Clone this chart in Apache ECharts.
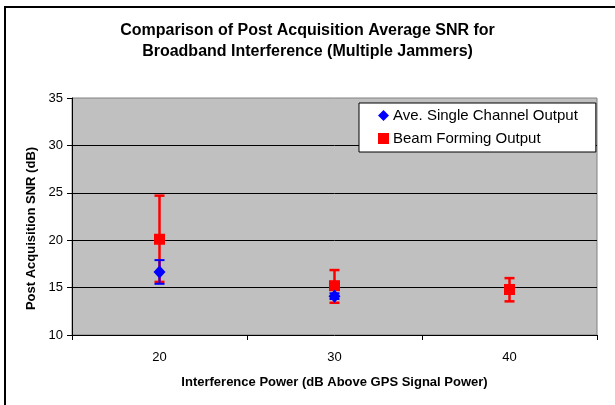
<!DOCTYPE html>
<html>
<head>
<meta charset="utf-8">
<script src="https://cdn.jsdelivr.net/npm/echarts@6/dist/echarts.min.js"></script>
<style>
  html, body { margin: 0; padding: 0; background: #fff; }
  #main { width: 615px; height: 405px; }
</style>
</head>
<body>
<div id="main"></div>
<script>
// categories: interference power (dB above GPS signal power)
var categories = ['20', '30', '40'];
var yTicks = [10, 15, 20, 25, 30, 35];

// Ave. Single Channel Output
var singleMean = [16.65, 14.1, null];
var singleLow = [15.4, 13.8, null];
var singleHigh = [17.9, 14.4, null];

// Beam Forming Output
var beamMean = [20.1, 15.2, 14.8];
var beamLow = [15.6, 13.4, 13.55];
var beamHigh = [24.7, 16.85, 16.0];

function errData(low, high) {
    var out = [];
    for (var i = 0; i < categories.length; i++) {
        if (low[i] != null) out.push([i, low[i], high[i]]);
    }
    return out;
}

function errBar(color, width, cap) {
    return function (params, api) {
        var lo = api.coord([api.value(0), api.value(1)]);
        var hi = api.coord([api.value(0), api.value(2)]);
        var x = lo[0];
        var style = { stroke: color, lineWidth: width };
        return {
            type: 'group',
            children: [
                { type: 'line', shape: { x1: x, y1: lo[1], x2: x, y2: hi[1] }, style: style },
                { type: 'line', shape: { x1: x - cap, y1: lo[1], x2: x + cap, y2: lo[1] }, style: style },
                { type: 'line', shape: { x1: x - cap, y1: hi[1], x2: x + cap, y2: hi[1] }, style: style }
            ]
        };
    };
}

var chart = echarts.init(document.getElementById('main'));
var font = 'Arial, "Liberation Sans", sans-serif';

var option = {
    animation: false,
    backgroundColor: '#fff',
    textStyle: { fontFamily: font },
    title: {
        text: 'Comparison of Post Acquisition Average SNR for\nBroadband Interference (Multiple Jammers)',
        left: 'center',
        top: 15,
        textStyle: { fontSize: 16, fontWeight: 'bold', color: '#000', lineHeight: 21, fontFamily: font }
    },
    graphic: [{
        type: 'rect',
        shape: { x: 5, y: 7, width: 700, height: 500 },
        style: { fill: null, stroke: '#000', lineWidth: 2 },
        z: -1
    }],
    legend: {
        orient: 'vertical',
        left: 359,
        top: 103,
        backgroundColor: '#fff',
        borderColor: '#000',
        borderWidth: 1,
        borderRadius: 0,
        padding: [5, 18, 6, 19],
        itemGap: 8,
        itemWidth: 11,
        itemHeight: 11,
        data: [
            { name: 'Ave. Single Channel Output', icon: 'diamond' },
            { name: 'Beam Forming Output', icon: 'rect' }
        ],
        textStyle: { fontSize: 15, color: '#000', fontFamily: font, padding: [0, 0, 0, -1] }
    },
    grid: { left: 72, right: 18, top: 98, bottom: 70, show: true, backgroundColor: '#C0C0C0', borderColor: '#808080', borderWidth: 1 },
    xAxis: {
        type: 'category',
        data: categories,
        boundaryGap: true,
        name: 'Interference Power (dB Above GPS Signal Power)',
        nameLocation: 'middle',
        nameGap: 41,
        nameTextStyle: { fontSize: 13, fontWeight: 'bold', color: '#000', fontFamily: font },
        axisLine: { lineStyle: { color: '#000', width: 1 } },
        axisTick: { show: true, length: 5, lineStyle: { color: '#000' } },
        axisLabel: { fontSize: 13, color: '#000', margin: 16, fontFamily: font },
        splitLine: { show: false }
    },
    yAxis: {
        type: 'value',
        min: yTicks[0],
        max: yTicks[yTicks.length - 1],
        interval: 5,
        name: 'Post Acquisition SNR (dB)',
        nameLocation: 'middle',
        nameGap: 33,
        nameTextStyle: { fontSize: 13, fontWeight: 'bold', color: '#000', fontFamily: font, padding: [0, 24, 0, 0] },
        axisLine: { show: true, lineStyle: { color: '#000', width: 1 } },
        axisTick: { show: true, length: 5, lineStyle: { color: '#000' } },
        axisLabel: { fontSize: 13, color: '#000', margin: 9, fontFamily: font },
        splitLine: { show: true, showMinLine: false, showMaxLine: false, lineStyle: { color: '#000', width: 1 } }
    },
    series: [
        {
            type: 'custom',
            name: 'beamErr',
            data: errData(beamLow, beamHigh),
            renderItem: errBar('#FF0000', 2.5, 5),
            z: 2,
            silent: true
        },
        {
            type: 'scatter',
            name: 'Beam Forming Output',
            data: beamMean,
            symbol: 'rect',
            symbolSize: 11,
            itemStyle: { color: '#FF0000', opacity: 1 },
            z: 3
        },
        {
            type: 'custom',
            name: 'singleErr',
            data: errData(singleLow, singleHigh),
            renderItem: errBar('#0000FF', 2, 5),
            z: 4,
            silent: true
        },
        {
            type: 'scatter',
            name: 'Ave. Single Channel Output',
            data: singleMean.map(function (v) { return v == null ? '-' : v; }),
            symbol: 'diamond',
            symbolSize: [12, 13],
            itemStyle: { color: '#0000FF', opacity: 1 },
            z: 5
        }
    ]
};

chart.setOption(option);
</script>
</body>
</html>
